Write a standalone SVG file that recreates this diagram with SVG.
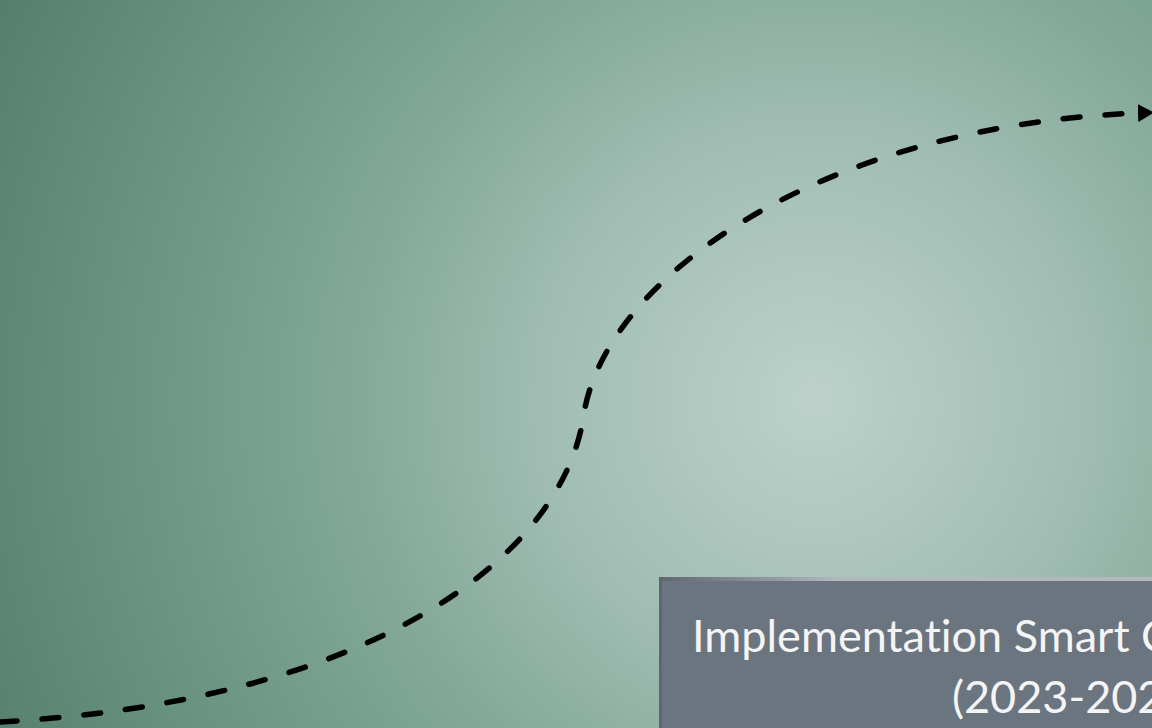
<svg xmlns="http://www.w3.org/2000/svg" width="1152" height="728" viewBox="0 0 1152 728">
  <defs>
    <radialGradient id="bg" gradientUnits="userSpaceOnUse" cx="815" cy="400" r="910">
      <stop offset="0" stop-color="#bcd1cb"/>
      <stop offset="0.3" stop-color="#a0bdb3"/>
      <stop offset="0.5" stop-color="#84a999"/>
      <stop offset="0.75" stop-color="#6b9483"/>
      <stop offset="1" stop-color="#567e6d"/>
    </radialGradient>
    <linearGradient id="topEdge" gradientUnits="userSpaceOnUse" x1="659" y1="0" x2="840" y2="0">
      <stop offset="0" stop-color="#5e676f"/>
      <stop offset="1" stop-color="#b2b8be"/>
    </linearGradient>
    <marker id="arrow" markerUnits="userSpaceOnUse" viewBox="0 0 16 18" refX="2" refY="9" markerWidth="16" markerHeight="18" orient="auto">
      <path d="M0,0 L16,9 L0,18 Z" fill="#000"/>
    </marker>
    <style>
      .conn { fill: none; stroke: #000; stroke-width: 5.5; stroke-linecap: round; stroke-dasharray: 17 25; }
      .label { font-family: "Lato", "Open Sans", sans-serif; font-size: 45px; fill: #f4f4f4; font-variant-ligatures: none; }
    </style>
  </defs>
  <rect x="0" y="0" width="1152" height="728" fill="url(#bg)"/>
  <g id="connectors">
    <path class="conn" d="M0,722 C360,702 557,565 583,420 C600,280 820,125 1140,113" marker-end="url(#arrow)"/>
  </g>
  <g id="node-implementation">
    <rect x="659" y="577" width="500" height="160" fill="#6b7580"/>
    <rect x="659" y="577" width="500" height="4" fill="url(#topEdge)"/>
    <rect x="659" y="577" width="3" height="160" fill="#5e676f"/>
    <text class="label" x="692" y="652">Implementation Smart C</text>
    <text class="label" x="952" y="713">(2023-202</text>
  </g>
</svg>
